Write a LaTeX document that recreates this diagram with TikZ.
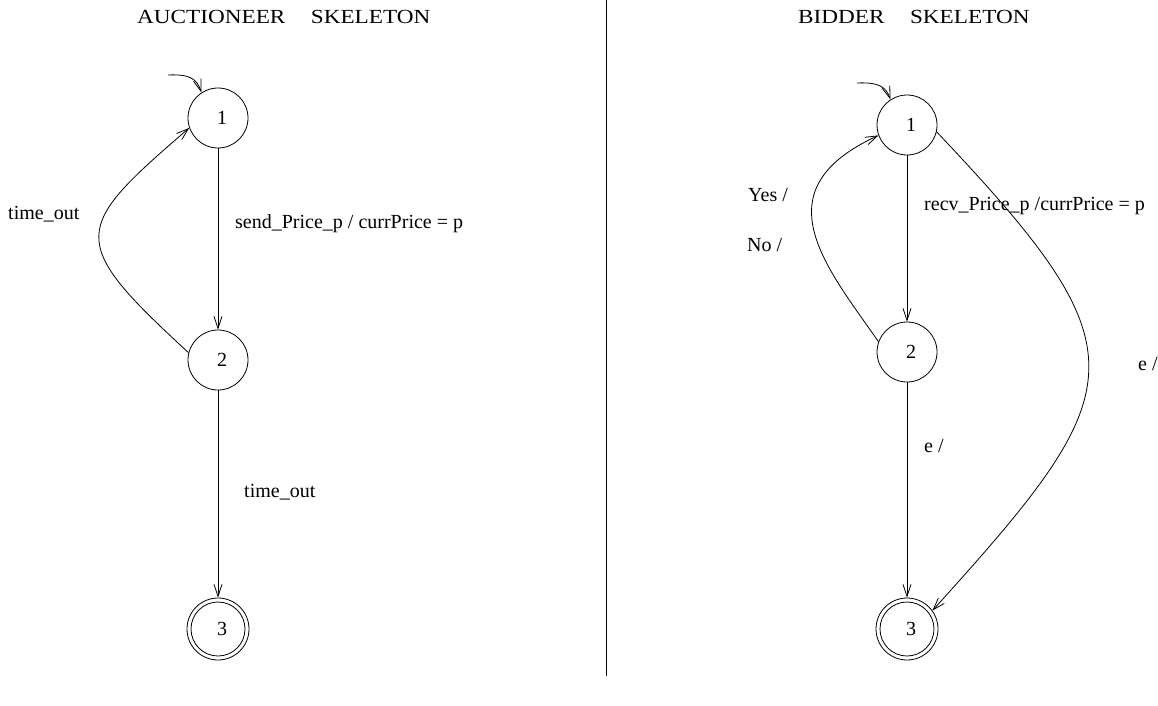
\documentclass[tikz,border=0pt]{standalone}
\usepackage{fontspec}
\setmainfont{Liberation Serif}
\usetikzlibrary{arrows.meta}
\begin{document}
\begin{tikzpicture}[x=1pt,y=-1pt,
  lbl/.style={anchor=base west,inner sep=0pt,font=\fontsize{20}{22}\selectfont},
  ttl/.style={anchor=base west,inner sep=0pt,font=\fontsize{20}{22}\selectfont},
  state/.style={circle,draw,line width=0.8pt,minimum size=60pt,inner sep=0pt,
    font=\fontsize{20}{22}\selectfont,execute at begin node={\hspace*{8pt}}},
  final/.style={state,minimum size=62pt,
    path picture={\draw[line width=0.8pt] (path picture bounding box.center) circle (27pt);}},
  arr/.style={line width=0.8pt,-{Straight Barb[length=12pt,width=8pt]}},
  plain/.style={line width=0.8pt}]
\useasboundingbox (0,0) rectangle (1158,706);

% divider between the two automata
\coordinate (dtop) at (606,0);
\coordinate (dbot) at (606,676);
\draw[plain] (dtop) -- (dbot);

% titles
\node[ttl] (t1) at (137,24) {\scalebox{1.16}[1]{AUCTIONEER\hspace{22pt}SKELETON}};
\node[ttl] (t2) at (798,24) {\scalebox{1.16}[1]{BIDDER\hspace{22pt}SKELETON}};

% auctioneer states
\node[state] (a1) at (218,118) {1};
\node[state] (a2) at (218,360) {2};
\node[final] (a3) at (218,629) {3};

\coordinate (ai) at (168,75);
\draw[arr] (ai) .. controls (190,74) and (197,79) .. (a1.123);
\draw[arr] (a1) -- (a2);
\draw[arr] (a2) -- (a3);
\draw[arr] (a2.166) .. controls (66,240) and (72,229) .. (a1.199);

\node[lbl] (la) at (235,228) {send\_Price\_p / currPrice = p};
\node[lbl] (lb) at (8,219) {time\_out};
\node[lbl] (lc) at (244,497) {time\_out};

% bidder states
\node[state] (b1) at (907,125) {1};
\node[state] (b2) at (907,352) {2};
\node[final] (b3) at (907,629) {3};

\coordinate (bi) at (857,83);
\draw[arr] (bi) .. controls (879,82) and (886,87) .. (b1.123);
\draw[arr] (b1) -- (b2);
\draw[arr] (b2) -- (b3);
\draw[arr] (b2.160) .. controls (825,265) and (760,190) .. (b1.200);
\draw[arr] (b1.347) .. controls (1145,352) and (1135,387) .. (b3.36);

\node[lbl] (ld) at (748,201) {Yes /};
\node[lbl] (le) at (747,251) {No /};
\node[lbl] (lf) at (924,210) {recv\_Price\_p /currPrice = p};
\node[lbl] (lg) at (924,452) {e /};
\node[lbl] (lh) at (1138,370) {e /};
\end{tikzpicture}
\end{document}
